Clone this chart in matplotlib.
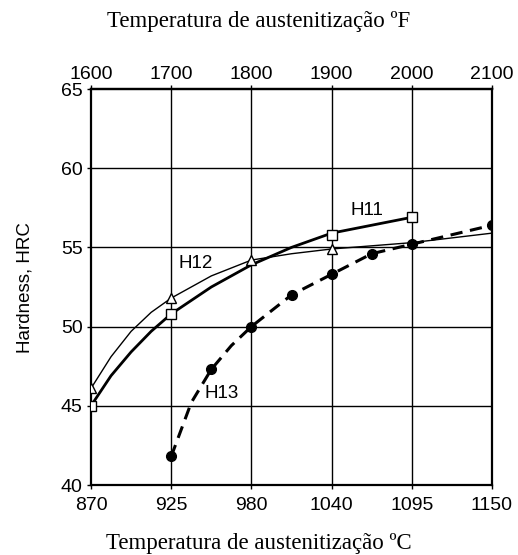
import matplotlib
matplotlib.use("Agg")
import matplotlib.pyplot as plt

# Axis ticks (positions in degrees F, equally spaced)
ticks_f = [1600, 1700, 1800, 1900, 2000, 2100]
labels_c = ["870", "925", "980", "1040", "1095", "1150"]
labels_f = ["1600", "1700", "1800", "1900", "2000", "2100"]
y_ticks = [40, 45, 50, 55, 60, 65]

# H11 curve (solid, open squares)
h11_x = [1600, 1625, 1650, 1675, 1700, 1750, 1800, 1850, 1900, 1950, 2000]
h11_y = [45.0, 46.9, 48.4, 49.7, 50.8, 52.5, 53.9, 55.0, 55.9, 56.4, 56.9]
h11_mx = [1600, 1700, 1900, 2000]
h11_my = [45.0, 50.8, 55.8, 56.9]

# H12 curve (thin, open triangles)
h12_x = [1600, 1625, 1650, 1675, 1700, 1750, 1800, 1850, 1900, 2000, 2100]
h12_y = [46.1, 48.1, 49.7, 50.9, 51.8, 53.2, 54.2, 54.6, 54.9, 55.3, 55.9]
h12_mx = [1600, 1700, 1800, 1900]
h12_my = [46.1, 51.8, 54.2, 54.9]

# H13 curve (dashed, filled circles)
h13_x = [1700, 1725, 1750, 1775, 1800, 1850, 1900, 1950, 2000, 2100]
h13_y = [41.8, 45.2, 47.3, 48.8, 50.0, 52.0, 53.3, 54.6, 55.2, 56.4]
h13_mx = [1700, 1750, 1800, 1850, 1900, 1950, 2000, 2100]
h13_my = [41.8, 47.3, 50.0, 52.0, 53.3, 54.6, 55.2, 56.4]

SANS = ["Liberation Sans", "DejaVu Sans"]
SERIF = ["Liberation Serif", "DejaVu Serif"]

fig = plt.figure(figsize=(5.18, 5.55), dpi=100)
ax = fig.add_axes([91/518, 1-485/555, (492-91)/518, (485-89)/555])

ax.set_xlim(1600, 2100)
ax.set_ylim(40, 65)
ax.set_xticks(ticks_f)
ax.set_xticklabels(labels_c)
ax.set_yticks(y_ticks)
for t in ticks_f[1:-1]:
    ax.axvline(t, color="black", lw=1.0, zorder=1)
for t in y_ticks[1:-1]:
    ax.axhline(t, color="black", lw=1.0, zorder=1)
for s in ax.spines.values():
    s.set_linewidth(1.6)

ax.tick_params(axis="x", length=3, width=1, direction="out", pad=6)
ax.tick_params(axis="y", length=3, width=1, direction="out", pad=3)
for lab in ax.get_xticklabels() + ax.get_yticklabels():
    lab.set_fontfamily(SANS)
    lab.set_fontsize(14)

sec = ax.secondary_xaxis("top")
sec.set_xticks(ticks_f)
sec.set_xticklabels(labels_f, fontfamily=SANS, fontsize=14)
sec.tick_params(length=3, width=1, pad=1)
sec.spines["top"].set_linewidth(1.6)

ax.plot(h12_x, h12_y, color="black", lw=1.0, zorder=3)
ax.plot(h12_mx, h12_my, ls="none", marker="^", ms=7, mfc="white", mec="black", mew=1.0, zorder=5)

ax.plot(h11_x, h11_y, color="black", lw=2.0, zorder=3)
ax.plot(h11_mx, h11_my, ls="none", marker="s", ms=7, mfc="white", mec="black", mew=1.0, zorder=5)

ax.plot(h13_x, h13_y, color="black", lw=2.2, ls=(0, (4, 2.5)), zorder=3)
ax.plot(h13_mx, h13_my, ls="none", marker="o", ms=7, mfc="black", mec="black", zorder=5)

lab_font = dict(family=SANS, size=13.5)
ax.text(1944, 57.3, "H11", ha="center", va="center", fontdict=lab_font, zorder=6)
ax.text(1730, 54.0, "H12", ha="center", va="center", fontdict=lab_font, zorder=6)
ax.text(1763, 45.8, "H13", ha="center", va="center", fontdict=lab_font, zorder=6)

fig.text(25/518, 1-288/555, "Hardness, HRC", rotation=90, ha="center", va="center",
         fontfamily=SANS, fontsize=13.5)

fig.text(0.5, 1-27/555, "Temperatura de austenitização ºF", ha="center", va="baseline",
         fontfamily=SERIF, fontsize=16.5)
fig.text(0.5, 1-549/555, "Temperatura de austenitização ºC", ha="center", va="baseline",
         fontfamily=SERIF, fontsize=16.5)

fig.savefig("out.png", dpi=100)
